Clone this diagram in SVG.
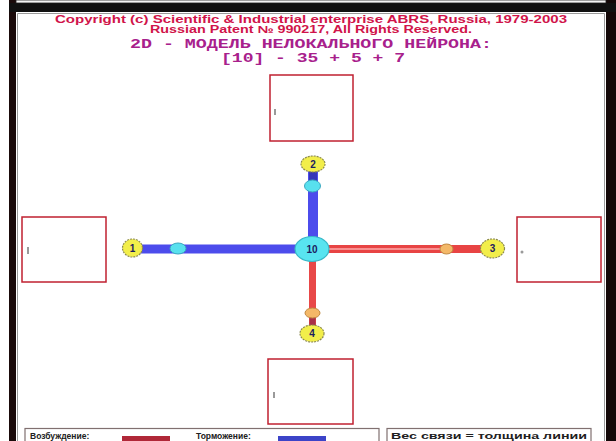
<svg xmlns="http://www.w3.org/2000/svg" width="616" height="441" viewBox="0 0 616 441">
  <defs>
    <style>
      .hdr { font-family: "Liberation Sans", Arial, sans-serif; font-weight: bold; font-size: 10px; fill: #d0144a; }
      .ttl { font-family: "Liberation Mono", "Courier New", monospace; font-weight: bold; font-size: 13px; fill: #a8208c; }
      .box { fill: #ffffff; stroke: #c02030; stroke-width: 1.5; }
      .mark { fill: #9a9a9a; }
      .big { fill: #f2ee4a; stroke: #8c8a50; stroke-width: 1.2; stroke-dasharray: 2 1; }
      .soma { fill: #58e4f0; stroke: #38b8c8; stroke-width: 1.2; }
      .syn-c { fill: #58e0ee; stroke: #3aa8c0; stroke-width: 1; }
      .syn-o { fill: #f4b868; stroke: #c08840; stroke-width: 1; }
      .lbl { font-family: "Liberation Sans", Arial, sans-serif; font-weight: bold; font-size: 10px; fill: #1c1c60; text-anchor: middle; }
      .leg { font-family: "Liberation Sans", Arial, sans-serif; font-weight: bold; font-size: 8.5px; fill: #202020; }
      .panel { fill: #ffffff; stroke: #807070; stroke-width: 1.2; }
    </style>
  </defs>

  <!-- window frame -->
  <rect x="0" y="0" width="616" height="441" fill="#ffffff"/>
  <rect x="9" y="0" width="7" height="441" fill="#1a0a0a"/>
  <rect x="606" y="0" width="10" height="441" fill="#140808"/>
  <rect x="9" y="3" width="607" height="9" fill="#101010"/>
  <rect x="16" y="0" width="590" height="3" fill="#f4f4f4" stroke="#202020" stroke-width="0.8"/>
  <rect x="16" y="12" width="590" height="429" fill="#ffffff"/>
  <path d="M17.5,441 V13.5 H604.5 V441" fill="none" stroke="#9a9a9a" stroke-width="1"/>

  <!-- header -->
  <text class="hdr" x="311" y="23" text-anchor="middle" textLength="512" lengthAdjust="spacingAndGlyphs">Copyright (c) Scientific &amp; Industrial enterprise ABRS, Russia, 1979-2003</text>
  <text class="hdr" x="311" y="33" text-anchor="middle" textLength="322" lengthAdjust="spacingAndGlyphs">Russian Patent № 990217, All Rights Reserved.</text>
  <text class="ttl" x="311" y="48" text-anchor="middle" textLength="362" lengthAdjust="spacingAndGlyphs">2D - МОДЕЛЬ НЕЛОКАЛЬНОГО НЕЙРОНА:</text>
  <text class="ttl" x="313" y="62" text-anchor="middle" textLength="184" lengthAdjust="spacingAndGlyphs">[10] - 35 + 5 + 7</text>

  <!-- side boxes -->
  <g id="box-top">
    <rect class="box" x="270" y="75" width="83" height="66"/>
    <rect class="mark" x="274" y="109" width="2" height="6"/>
  </g>
  <g id="box-left">
    <rect class="box" x="22" y="217" width="84" height="65"/>
    <rect class="mark" x="27" y="247" width="2" height="7"/>
  </g>
  <g id="box-right">
    <rect class="box" x="517" y="217" width="84" height="65"/>
    <circle class="mark" cx="522" cy="252" r="1.5"/>
  </g>
  <g id="box-bottom">
    <rect class="box" x="268" y="359" width="85" height="65"/>
    <rect class="mark" x="273" y="392" width="2" height="6"/>
  </g>

  <!-- connectors -->
  <g id="connectors">
    <line x1="133" y1="249" x2="300" y2="249" stroke="#4c4cec" stroke-width="9"/>
    <line x1="313" y1="168" x2="313" y2="240" stroke="#4c4cec" stroke-width="10"/>
    <line x1="313" y1="168" x2="313" y2="182" stroke="#3434b8" stroke-width="8"/>
    <line x1="325" y1="249" x2="492" y2="249" stroke="#e84444" stroke-width="8"/>
    <line x1="325" y1="249" x2="441" y2="249" stroke="#f89090" stroke-width="2"/>
    <line x1="312.5" y1="258" x2="312.5" y2="330" stroke="#e84848" stroke-width="7"/>
    <line x1="312.5" y1="317" x2="312.5" y2="328" stroke="#a83048" stroke-width="6"/>
  </g>

  <!-- synapses -->
  <g id="syn-left"><ellipse class="syn-c" cx="178" cy="248.5" rx="8" ry="5.5"/></g>
  <g id="syn-top"><ellipse class="syn-c" cx="312.5" cy="186" rx="8" ry="6"/></g>
  <g id="syn-right"><ellipse class="syn-o" cx="446.5" cy="249" rx="6.5" ry="5"/></g>
  <g id="syn-bottom"><ellipse class="syn-o" cx="312.5" cy="313" rx="7.5" ry="5"/></g>

  <!-- neurons -->
  <g id="node-10">
    <ellipse class="soma" cx="312" cy="249" rx="17" ry="12.5"/>
    <text class="lbl" x="312" y="252.5">10</text>
  </g>
  <g id="node-1">
    <ellipse class="big" cx="132.5" cy="248" rx="10" ry="9"/>
    <text class="lbl" x="132.5" y="251.5">1</text>
  </g>
  <g id="node-2">
    <ellipse class="big" cx="313" cy="164" rx="12" ry="8"/>
    <text class="lbl" x="313" y="167.5">2</text>
  </g>
  <g id="node-3">
    <ellipse class="big" cx="492.5" cy="248.5" rx="12" ry="9.5"/>
    <text class="lbl" x="492.5" y="252">3</text>
  </g>
  <g id="node-4">
    <ellipse class="big" cx="312" cy="333.5" rx="12" ry="8.5"/>
    <text class="lbl" x="312" y="337">4</text>
  </g>

  <!-- legend -->
  <g id="legend-left">
    <rect class="panel" x="25" y="428.5" width="354" height="20"/>
    <text class="leg" x="30" y="439">Возбуждение:</text>
    <rect x="122" y="436" width="48" height="8" fill="#b02838"/>
    <text class="leg" x="196" y="439">Торможение:</text>
    <rect x="278" y="436" width="48" height="8" fill="#3c44c8"/>
  </g>
  <g id="legend-right">
    <rect class="panel" x="387" y="428.5" width="204" height="20"/>
    <text class="leg" x="391" y="439" textLength="196" lengthAdjust="spacingAndGlyphs">Вес связи = толщина линии</text>
  </g>
</svg>
